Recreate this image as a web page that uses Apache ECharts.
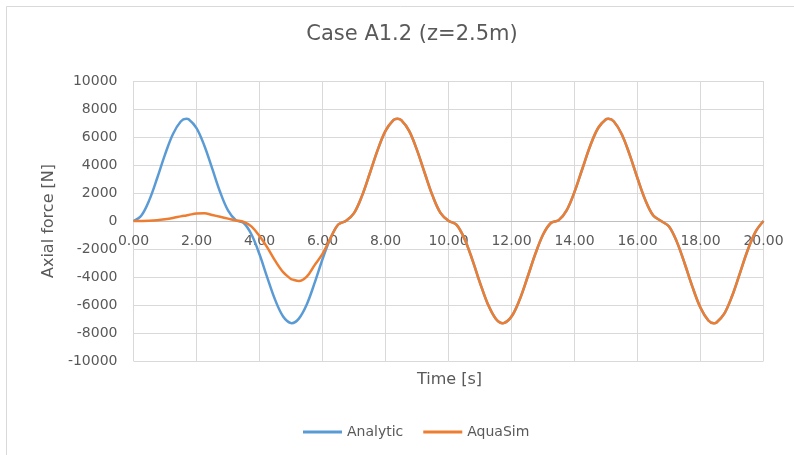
<!DOCTYPE html>
<html>
<head>
<meta charset="utf-8">
<script src="https://cdn.jsdelivr.net/npm/echarts@6/dist/echarts.min.js"></script>
<style>
html,body{margin:0;padding:0;background:#fff;}
#chart{width:794px;height:455px;}
</style>
</head>
<body>
<div id="chart"></div>
<script>
// Time samples [s]
var times = [0,0.25,0.5,0.75,1,1.25,1.5,1.675,1.75,2,2.25,2.5,2.75,3,3.25,3.5,3.75,4,4.25,4.5,4.75,5,5.025,5.25,5.5,5.75,6,6.25,6.5,6.75,
  7,7.25,7.5,7.75,8,8.25,8.375,8.5,8.75,9,9.25,9.5,9.75,10,10.25,10.5,10.75,11,11.25,11.5,11.725,11.75,12,12.25,12.5,12.75,13,13.25,13.5,13.75,
  14,14.25,14.5,14.75,15,15.075,15.25,15.5,15.75,16,16.25,16.5,16.75,17,17.25,17.5,17.75,18,18.25,18.425,18.5,18.75,19,19.25,19.5,19.75,20];

// Axial force [N] – Analytic
var analytic = [0,394,1491,3055,4745,6199,7106,7300,7264,6640,5378,3735,2070,757,64,-144,-982,-2378,-4062,-5653,-6819,-7295,-7300,-6972,-5963,-4425,-2731,-1244,-252,16,
  563,1776,3393,5067,6435,7201,7300,7201,6435,5067,3393,1776,563,16,-254,-1225,-2719,-4415,-5946,-6979,-7300,-7296,-6826,-5667,-4073,-2395,-980,-143,64,759,
  2078,3734,5378,6643,7264,7300,7106,6199,4745,3055,1491,394,0,-394,-1491,-3055,-4745,-6199,-7106,-7300,-7264,-6640,-5378,-3735,-2070,-757,0];

// Axial force [N] – AquaSim
var aquasim = [0,5,20,60,130,220,330,400,430,540,560,430,300,170,40,-60,-400,-1080,-1900,-2850,-3650,-4150,-4170,-4290,-3980,-3150,-2350,-1244,-252,16,
  563,1776,3393,5067,6435,7201,7300,7201,6435,5067,3393,1776,563,16,-254,-1225,-2719,-4415,-5946,-6979,-7300,-7296,-6826,-5667,-4073,-2395,-980,-143,64,759,
  2078,3734,5378,6643,7264,7300,7106,6199,4745,3055,1491,394,0,-394,-1491,-3055,-4745,-6199,-7106,-7300,-7264,-6640,-5378,-3735,-2070,-757,0];

var seriesNames = ['Analytic', 'AquaSim'];
var seriesColors = ['#5B9BD5', '#ED7D31'];
var titleText = 'Case A1.2 (z=2.5m)';
var xName = 'Time [s]';
var yName = 'Axial force [N]';

function pairs(vals){ return times.map(function(t,i){ return [t, vals[i]]; }); }

var txt = '#595959';
var font = 'DejaVu Sans';
var chart = echarts.init(document.getElementById('chart'));
chart.setOption({
  animation: false,
  backgroundColor: '#fff',
  title: {
    text: titleText, left: 407, top: 19, textAlign: 'center',
    textStyle: {color: txt, fontFamily: font, fontSize: 21, fontWeight: 'normal'}
  },
  grid: {left: 133.5, right: 30.5, top: 81, bottom: 94},
  legend: {
    data: [
      {name: seriesNames[0], icon: 'rect', itemStyle: {color: seriesColors[0]}},
      {name: seriesNames[1], icon: 'rect', itemStyle: {color: seriesColors[1]}}
    ],
    left: 298, top: 420, itemWidth: 39, itemHeight: 3, itemGap: 20,
    textStyle: {color: txt, fontFamily: font, fontSize: 14}
  },
  graphic: [
    {type: 'rect', shape: {x: 6.5, y: 6.5, width: 820, height: 480}, style: {fill: 'none', stroke: '#d9d9d9', lineWidth: 1}, silent: true},
    {type: 'text', left: 417, top: 372, style: {text: xName, fill: txt, font: '16px "DejaVu Sans"'}}
  ],
  xAxis: {
    type: 'value', min: 0, max: 20, interval: 2, offset: -140,
    axisLine: {show: true, onZero: false, lineStyle: {color: '#bfbfbf', width: 1}},
    axisTick: {show: false},
    axisLabel: {color: txt, fontFamily: font, fontSize: 14, margin: 13, formatter: function(v){ return v.toFixed(2); }},
    splitLine: {show: true, lineStyle: {color: '#d9d9d9', width: 1}}
  },
  yAxis: {
    type: 'value', min: -10000, max: 10000, interval: 2000,
    name: yName, nameLocation: 'middle', nameGap: 76, nameRotate: 90,
    nameTextStyle: {color: txt, fontFamily: font, fontSize: 16},
    axisLine: {show: false}, axisTick: {show: false},
    axisLabel: {color: txt, fontFamily: font, fontSize: 14, margin: 16, formatter: function(v){ return String(v); }},
    splitLine: {show: true, lineStyle: {color: '#d9d9d9', width: 1}}
  },
  series: [
    {name: seriesNames[0], type: 'line', data: pairs(analytic), smooth: 0.35, symbol: 'none',
     lineStyle: {color: seriesColors[0], width: 2.5}, itemStyle: {color: seriesColors[0]}},
    {name: seriesNames[1], type: 'line', data: pairs(aquasim), smooth: 0.35, symbol: 'none',
     lineStyle: {color: seriesColors[1], width: 2.5}, itemStyle: {color: seriesColors[1]}}
  ]
});
</script>
</body>
</html>
